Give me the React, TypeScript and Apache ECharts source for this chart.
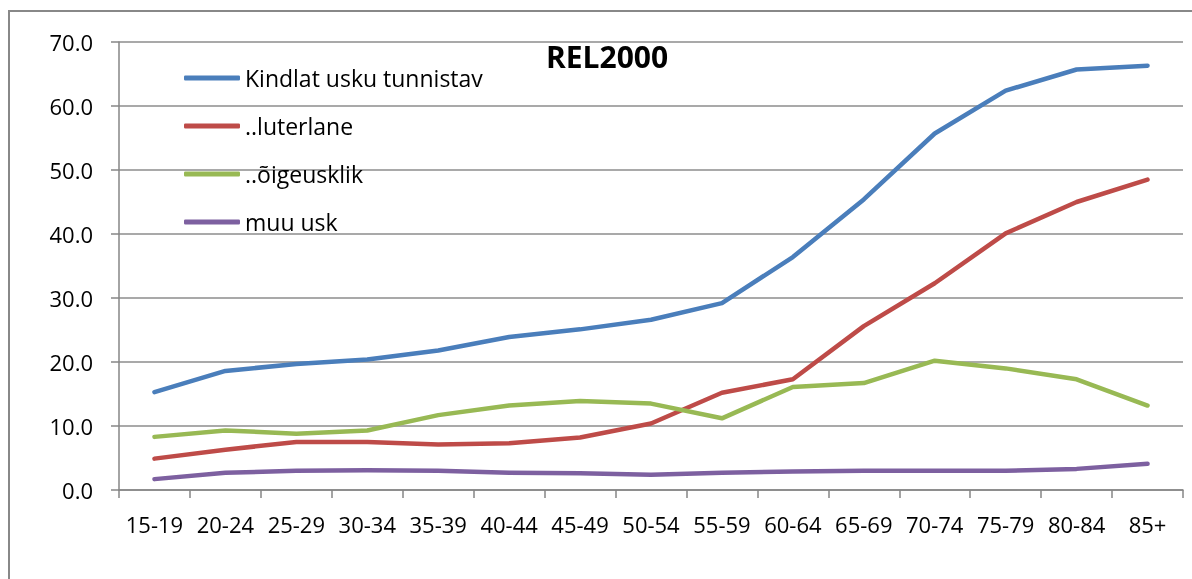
import React, { useEffect, useRef } from "react";
import * as echarts from "echarts";

const categories = ["15-19", "20-24", "25-29", "30-34", "35-39", "40-44", "45-49", "50-54", "55-59", "60-64", "65-69", "70-74", "75-79", "80-84", "85+"];
const seriesNames = ["Kindlat usku tunnistav", "..luterlane", "..õigeusklik", "muu usk"];
const kindlat = [15.3, 18.6, 19.7, 20.4, 21.8, 23.9, 25.1, 26.6, 29.2, 36.4, 45.4, 55.7, 62.4, 65.7, 66.3];
const luterlane = [4.9, 6.3, 7.5, 7.5, 7.1, 7.3, 8.2, 10.4, 15.2, 17.3, 25.6, 32.3, 40.1, 45.0, 48.5];
const oigeusklik = [8.3, 9.3, 8.8, 9.3, 11.7, 13.2, 13.9, 13.5, 11.2, 16.1, 16.7, 20.2, 19.0, 17.3, 13.2];
const muuUsk = [1.7, 2.7, 3.0, 3.1, 3.0, 2.7, 2.6, 2.4, 2.7, 2.9, 3.0, 3.0, 3.0, 3.3, 4.1];
const colors = ["#4A7EBB", "#BE4B48", "#98B954", "#7D60A0"];
const title = "REL2000";

const FONT = "Open Sans";

export default function App() {
  const ref = useRef<HTMLDivElement>(null);
  useEffect(() => {
    document.body.style.overflow = "hidden";
    const chart = echarts.init(ref.current!, null, { renderer: "svg" });
    const data = [kindlat, luterlane, oigeusklik, muuUsk];
    chart.setOption({
      animation: false,
      color: colors,
      title: {
        text: title,
        left: 602,
        top: 36,
        textAlign: "center",
        textStyle: { fontFamily: FONT, fontWeight: "bold", fontSize: 30, color: "#000" },
      },
      legend: {
        orient: "vertical",
        left: 179,
        top: 60,
        itemWidth: 56,
        itemHeight: 5,
        itemGap: 22,
        icon: "roundRect",
        textStyle: { fontFamily: FONT, fontSize: 23, color: "#000", lineHeight: 26 },
        data: seriesNames,
      },
      grid: { left: 119, top: 42, width: 1064, height: 448, containLabel: false },
      xAxis: {
        type: "category",
        data: categories,
        boundaryGap: true,
        axisLine: { lineStyle: { color: "#868686", width: 1.5 } },
        axisTick: { show: true, length: 8, lineStyle: { color: "#868686", width: 1.5 } },
        axisLabel: { color: "#000", fontFamily: FONT, fontSize: 22, margin: 23, interval: 0 },
      },
      yAxis: {
        type: "value",
        min: 0,
        max: 70,
        interval: 10,
        axisLine: { show: true, lineStyle: { color: "#868686", width: 1.5 } },
        axisTick: { show: true, length: 8, lineStyle: { color: "#868686", width: 1.5 } },
        splitLine: { lineStyle: { color: "#8C8C8C", width: 1.5 } },
        axisLabel: { color: "#000", fontFamily: FONT, fontSize: 22, margin: 26, formatter: (v: number) => v.toFixed(1) },
      },
      series: seriesNames.map((name, i) => ({
        name,
        type: "line",
        data: data[i],
        symbol: "none",
        lineStyle: { width: 4.5, color: colors[i], cap: "round", join: "round" },
        itemStyle: { color: colors[i] },
      })),
    });
    return () => chart.dispose();
  }, []);
  return (
    <>
      <div
        style={{
          position: "fixed",
          left: 8,
          top: 10,
          width: 1200,
          height: 600,
          borderLeft: "2px solid #888",
          borderTop: "2px solid #888",
          boxSizing: "border-box",
        }}
      />
      <div ref={ref} style={{ position: "fixed", left: 0, top: 0, width: 1192, height: 579 }} />
    </>
  );
}
